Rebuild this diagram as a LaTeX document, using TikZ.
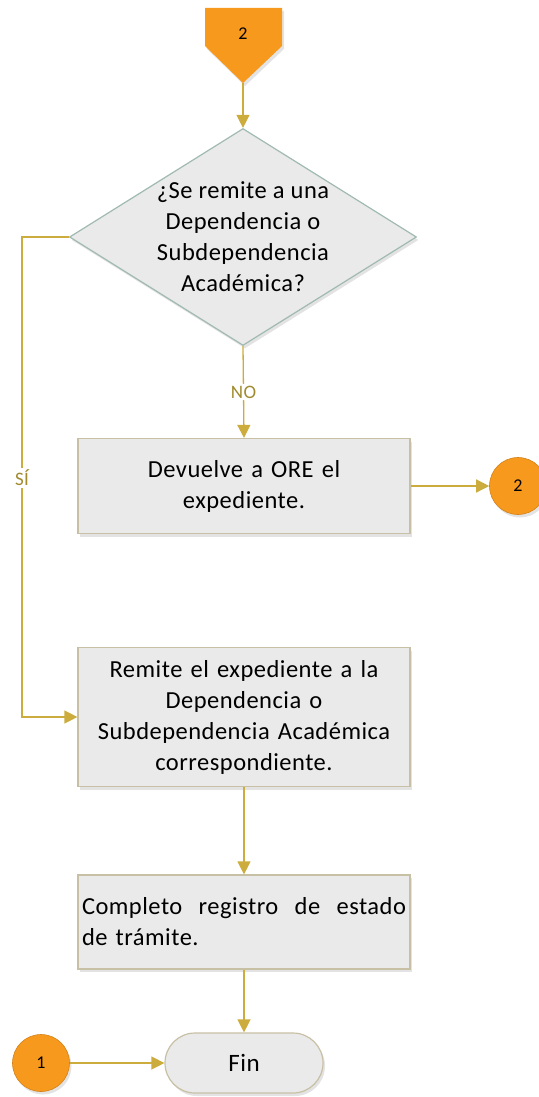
\documentclass[tikz,border=0pt]{standalone}
\usepackage{fontspec}
\setmainfont{Carlito}[LetterSpace=2]
\usetikzlibrary{shapes.geometric, arrows.meta, shadows}
\definecolor{naranja}{RGB}{247,153,29}
\definecolor{linea}{RGB}{204,172,60}
\definecolor{etiq}{RGB}{160,138,46}
\definecolor{relleno}{RGB}{234,234,234}
\definecolor{borde}{RGB}{200,192,165}
\definecolor{bordedec}{RGB}{160,186,178}
\tikzset{
  sombra/.style   = {drop shadow={shadow xshift=2pt, shadow yshift=-3pt, opacity=.22}},
  proc/.style     = {shape=rectangle, draw=borde, line width=1.2pt, fill=relleno,
                     minimum width=332pt, align=center, text width=324pt, inner sep=4pt,
                     font=\fontsize{24.5}{31}\selectfont, sombra},
  dec/.style      = {shape=diamond, draw=bordedec, line width=1.2pt, fill=relleno,
                     minimum width=347pt, minimum height=217pt, inner sep=0pt, sombra},
  term/.style     = {shape=rectangle, rounded corners=30pt, draw=borde, line width=1.2pt,
                     fill=relleno, minimum width=158pt, minimum height=60pt,
                     font=\fontsize{25}{31}\selectfont, sombra},
  conn/.style     = {circle, fill=naranja, draw=naranja!85!black, line width=.6pt,
                     minimum size=57pt, inner sep=0pt, font=\fontsize{18}{20}\selectfont, sombra},
  flecha/.style   = {draw=linea, line width=1.3pt, -{Triangle[width=13pt,length=13pt]}},
  etiqueta/.style = {fill=white, text=etiq, inner sep=2pt, font=\fontsize{19}{20}\selectfont}
}
\begin{document}
\begin{tikzpicture}[x=1pt, y=-1pt]
  \useasboundingbox (0,0) rectangle (538,1097);

  % conector de pagina
  \fill[naranja, sombra] (205,8) -- (282,8) -- (282,46) -- (243,83) -- (205,46) -- cycle;
  \node[font=\fontsize{18}{20}\selectfont] (p2) at (243,34) {2};
  \coordinate (p2tip) at (243,83);

  \node[dec] (q) at (243,237) {};
  \node[align=center, font=\fontsize{24.5}{31}\selectfont] (qtxt) at (q.center)
    {¿Se remite a una\\ Dependencia o\\ Subdependencia\\ Académica?};

  \node[proc, minimum height=95pt] (devuelve) at (244,486) {Devuelve a ORE el\\ expediente.};
  \node[conn] (c2) at (518,486) {2};

  \node[proc, minimum height=139pt] (remite) at (244,717)
    {Remite el expediente a la\\ Dependencia o\\ Subdependencia Académica\\ correspondiente.};

  \node[proc, minimum height=94pt, align=left] (registro) at (244,922)
    {Completo\hfill registro\hfill de\hfill estado\\ de trámite.};

  \node[term] (fin) at (244,1063) {Fin};
  \node[conn] (c1) at (41,1063) {1};

  \coordinate (si) at (22,478);

  \draw[flecha] (p2tip) -- (q.north);
  \draw[flecha] (q.south) -- node[etiqueta] {NO} (devuelve.north);
  \draw[flecha] (devuelve.east) -- (c2.west);
  \draw[flecha] (q.west) -| (si) node[etiqueta] {SÍ} |- (remite.west);
  \draw[flecha] (remite.south) -- (registro.north);
  \draw[flecha] (registro.south) -- (fin.north);
  \draw[flecha] (c1.east) -- (fin.west);
\end{tikzpicture}
\end{document}
